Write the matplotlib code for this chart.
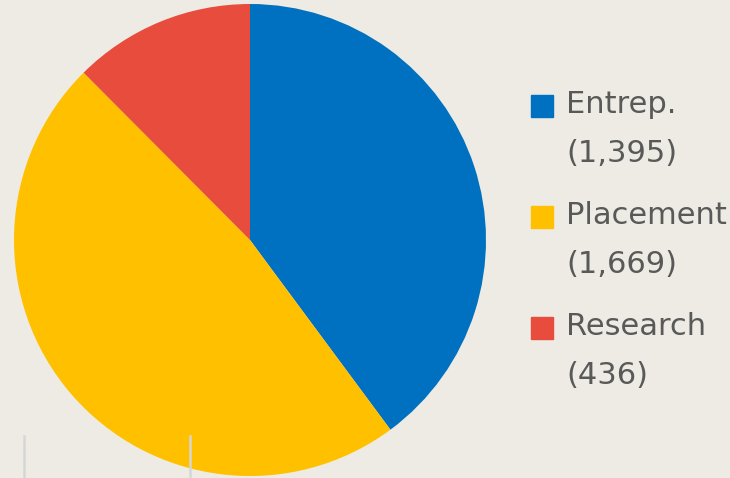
import matplotlib.pyplot as plt
from matplotlib.patches import Rectangle
from matplotlib.lines import Line2D

# projects by type
categories = ["Entrep.", "Placement", "Research"]
counts = [1395, 1669, 436]
colors = ["#0070C0", "#FFC000", "#E74C3C"]

bg = "#EDEBE3"
W, H = 730, 478

fig = plt.figure(figsize=(W / 100, H / 100), dpi=100, facecolor=bg)

# pie centred at (250, 240) px, radius 236 px
ax = fig.add_axes([14 / W, 2 / H, 472 / W, 472 / H])
ax.pie(counts, colors=colors, startangle=90, counterclock=False,
       radius=1, wedgeprops=dict(linewidth=0))
ax.set_xlim(-1, 1)
ax.set_ylim(-1, 1)
ax.set_aspect("equal")
ax.axis("off")

# legend drawn by hand: square + two text lines per entry
txt_color = "#595959"
for i, (name, n, c) in enumerate(zip(categories, counts, colors)):
    base = 113 + i * 111  # baseline of the first line, px from top
    fig.patches.append(Rectangle((531 / W, 1 - 117 / H - i * 111 / H), 22 / W, 22 / H,
                                 transform=fig.transFigure, color=c, figure=fig))
    fig.text(566 / W, 1 - base / H, name, fontsize=22, color=txt_color,
             va="baseline", ha="left")
    fig.text(566 / W, 1 - (base + 49) / H, "({:,})".format(n), fontsize=22,
             color=txt_color, va="baseline", ha="left")

# thin grey guide lines at the bottom
for x in [24, 190]:
    fig.lines.append(Line2D([x / W, x / W], [0, 1 - 436 / H], transform=fig.transFigure,
                            color="#D6D6D6", linewidth=1.8, zorder=10))

fig.savefig("out.png", dpi=100, facecolor=bg)
